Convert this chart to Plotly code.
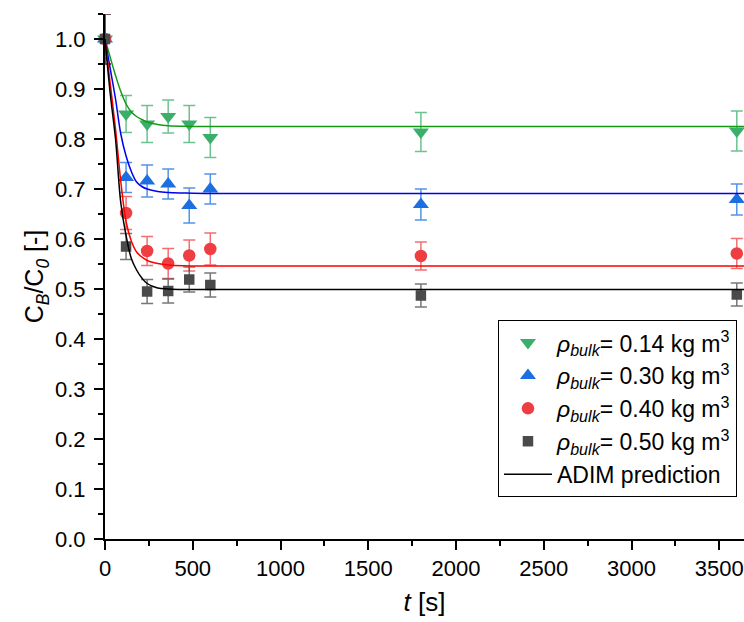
import plotly.graph_objects as go

# Experimental data
t_exp = [0, 120, 240, 360, 480, 600, 1800, 3600]
c_014 = [1.0, 0.850, 0.830, 0.845, 0.830, 0.803, 0.814, 0.816]
e_014 = [0.05, 0.037, 0.037, 0.033, 0.037, 0.040, 0.039, 0.040]
c_030 = [1.0, 0.723, 0.716, 0.710, 0.667, 0.700, 0.669, 0.679]
e_030 = [0.05, 0.030, 0.032, 0.030, 0.035, 0.030, 0.031, 0.031]
c_040 = [1.0, 0.652, 0.576, 0.551, 0.567, 0.580, 0.566, 0.571]
e_040 = [0.05, 0.033, 0.029, 0.030, 0.031, 0.032, 0.028, 0.030]
c_050 = [1.0, 0.585, 0.495, 0.496, 0.519, 0.508, 0.487, 0.489]
e_050 = [0.05, 0.026, 0.024, 0.024, 0.025, 0.024, 0.023, 0.023]

# ADIM prediction curves
t_fit = [0, 30, 60, 90, 120, 150, 180, 210, 240, 300, 360, 450, 600, 1000, 2000, 3700]
f_014 = [1.0, 0.963, 0.927, 0.895, 0.870, 0.854, 0.845, 0.839, 0.834, 0.829, 0.8265, 0.8255, 0.825, 0.825, 0.825, 0.825]
f_030 = [1.0, 0.940, 0.880, 0.810, 0.766, 0.735, 0.714, 0.705, 0.700, 0.695, 0.693, 0.692, 0.691, 0.691, 0.691, 0.691]
f_040 = [1.0, 0.910, 0.820, 0.715, 0.635, 0.596, 0.574, 0.564, 0.557, 0.551, 0.548, 0.5465, 0.546, 0.546, 0.546, 0.546]
f_050 = [1.0, 0.890, 0.800, 0.672, 0.607, 0.561, 0.538, 0.522, 0.511, 0.502, 0.500, 0.499, 0.499, 0.499, 0.499, 0.499]

labels = [
    "<i>ρ</i><sub><i>bulk</i></sub>= 0.14 kg m<sup>3</sup>",
    "<i>ρ</i><sub><i>bulk</i></sub>= 0.30 kg m<sup>3</sup>",
    "<i>ρ</i><sub><i>bulk</i></sub>= 0.40 kg m<sup>3</sup>",
    "<i>ρ</i><sub><i>bulk</i></sub>= 0.50 kg m<sup>3</sup>",
]

FONT = "Liberation Sans, Arial, sans-serif"

series = [
    (c_014, e_014, "triangle-down", 14, "#3aaf6a", "rgba(58,175,106,0.75)"),
    (c_030, e_030, "triangle-up", 14, "#1b6fe0", "rgba(27,111,224,0.75)"),
    (c_040, e_040, "circle", 12.5, "#ef3e42", "rgba(239,62,66,0.75)"),
    (c_050, e_050, "square", 10.5, "#4a4a4a", "rgba(74,74,74,0.75)"),
]

fig = go.Figure()
for i, (vals, errs, sym, size, col, ecol) in enumerate(series):
    fig.add_trace(go.Scatter(
        x=t_exp, y=vals, mode="markers", name=labels[i],
        marker=dict(symbol=sym, size=size, color=col, line=dict(width=0)),
        error_y=dict(type="data", array=errs, visible=True, color=ecol,
                     thickness=1.5, width=6),
        cliponaxis=False, legendgroup=f"g{i}",
    ))

fits = [(f_014, "#159a15"), (f_030, "#0000f0"), (f_040, "#ff0000"), (f_050, "#000000")]
for j, (fv, col) in enumerate(fits):
    fig.add_trace(go.Scatter(
        x=t_fit, y=fv, mode="lines", line=dict(color=col, width=1.5),
        name="ADIM prediction", showlegend=(j == 3), legendgroup="g4" if j == 3 else f"h{j}",
        line_shape="spline",
    ))

axis_common = dict(
    showline=True, linecolor="black", linewidth=2, mirror=False,
    ticks="outside", ticklen=9, tickwidth=1.5, tickcolor="black",
    showgrid=False, zeroline=False,
    tickfont=dict(family=FONT, size=22, color="black"),
)

fig.update_layout(
    width=744, height=622,
    margin=dict(l=105, r=0, t=14, b=83),
    paper_bgcolor="white", plot_bgcolor="white",
    font=dict(family=FONT, color="black"),
    showlegend=True,
    legend=dict(
        x=0.989, y=0.417, xanchor="right", yanchor="top",
        bgcolor="white", bordercolor="black", borderwidth=1,
        font=dict(family=FONT, size=23, color="black"),
        tracegroupgap=0, traceorder="grouped", itemwidth=48,
    ),
    xaxis=dict(
        **axis_common, range=[0, 3641], dtick=500, tick0=0,
        minor=dict(ticks="outside", ticklen=5, tickwidth=1.5, tickcolor="black", dtick=250, showgrid=False),
        title=dict(text="<i>t</i> [s]", font=dict(family=FONT, size=26, color="black"), standoff=12),
    ),
    yaxis=dict(
        **axis_common, range=[0, 1.05], dtick=0.1, tick0=0, tickformat=".1f",
        ticklabelstandoff=4,
        minor=dict(ticks="outside", ticklen=5, tickwidth=1.5, tickcolor="black", dtick=0.05, showgrid=False),
        title=dict(text="C<sub><i>B</i></sub>/C<sub><i>0</i></sub> [-]", font=dict(family=FONT, size=25, color="black"), standoff=4),
    ),
)

fig.write_html(
    "out.html",
    config={"displayModeBar": False},
    post_script="document.body.style.margin='0';document.body.style.overflow='hidden';",
)
